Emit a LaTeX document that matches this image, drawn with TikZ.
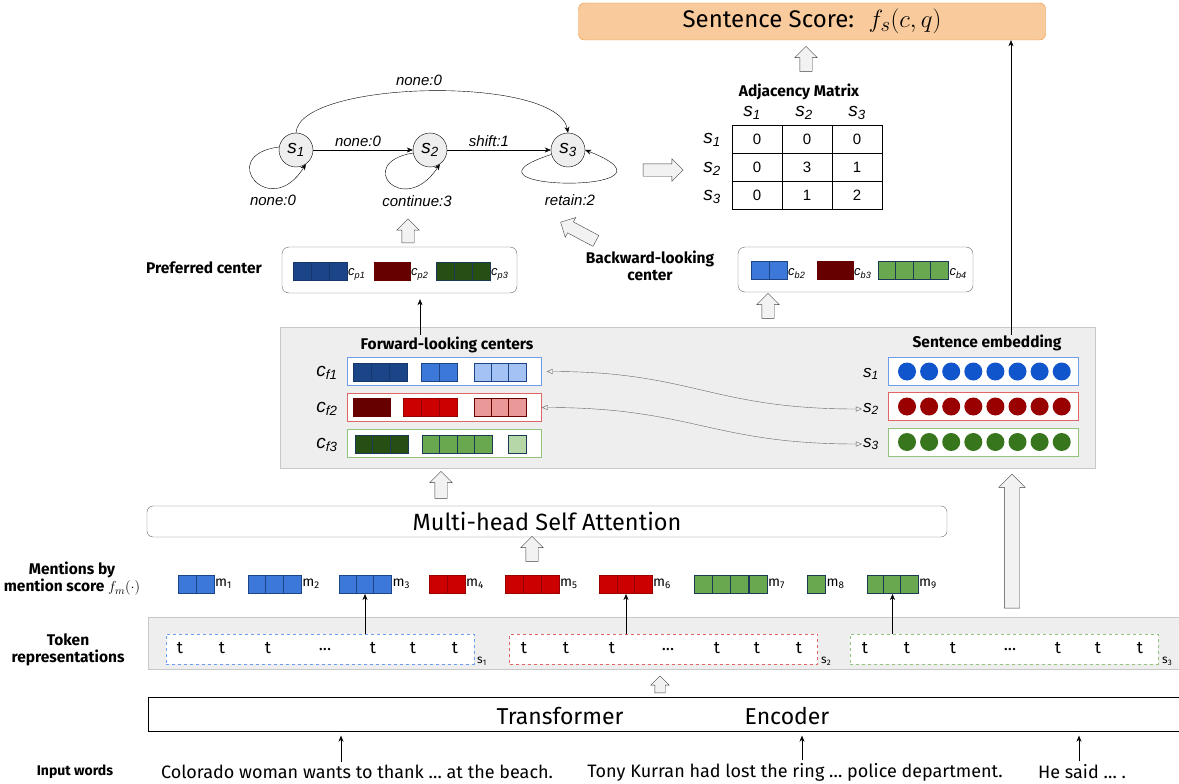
\documentclass[tikz,border=0pt]{standalone}
\usepackage{fontspec}
\setmainfont{Liberation Sans}
\newfontfamily\ubu{Fira Sans}
\usetikzlibrary{shapes,arrows.meta}

\definecolor{panelfill}{HTML}{EEEEEE}
\definecolor{panelline}{HTML}{C8C8C8}
\definecolor{scorefill}{HTML}{F9CB9C}
\definecolor{scoreline}{HTML}{E69138}
\definecolor{dblue}{HTML}{1C4587}
\definecolor{mblue}{HTML}{3C78D8}
\definecolor{lblue}{HTML}{A4C2F4}
\definecolor{dred}{HTML}{660000}
\definecolor{mred}{HTML}{CC0000}
\definecolor{lred}{HTML}{EA9999}
\definecolor{dgreen}{HTML}{274E13}
\definecolor{mgreen}{HTML}{6AA84F}
\definecolor{lgreen}{HTML}{B6D7A8}
\definecolor{embblue}{HTML}{1155CC}
\definecolor{embred}{HTML}{990000}
\definecolor{embgreen}{HTML}{38761D}
\definecolor{rowblue}{HTML}{6D9EEB}
\definecolor{rowred}{HTML}{E06666}
\definecolor{rowgreen}{HTML}{93C47D}
\definecolor{navy}{HTML}{1B3A57}

\newcommand\ital[2]{\textit{#1\textsubscript{#2}}}

\tikzset{
  arr/.style={-{Stealth[length=6pt,width=5pt]}},
  biarr/.style={draw=black!60,{Triangle[open,length=6pt,width=5pt]}-{Triangle[open,length=6pt,width=5pt]}},
  title/.style={font=\ubu\bfseries\fontsize{15.5}{17}\selectfont,align=center},
  lbl/.style={font=\itshape\fontsize{15}{17}\selectfont,inner sep=1pt},
  big/.style={font=\fontsize{19}{20}\selectfont,inner sep=1pt},
  state/.style={draw,circle,fill=panelfill,minimum size=34pt,inner sep=0pt,font=\fontsize{19}{20}\selectfont},
  mcell/.style={draw,minimum width=50pt,minimum height=28pt,inner sep=0pt,font=\fontsize{15}{16}\selectfont},
  cbox/.style={draw=black!60,rounded corners=7pt,minimum height=45pt,minimum width=235pt},
  panel/.style={draw=panelline,fill=panelfill},
  rowbox/.style={draw=#1,fill=white,minimum width=194pt,minimum height=28pt},
  cell/.style={draw,minimum width=#1,minimum height=18pt,inner sep=0pt,outer sep=0pt},
  cell/.default=18pt,
  csub/.style={font=\itshape\fontsize{13}{14}\selectfont,inner sep=1pt,anchor=west,yshift=-3pt},
  emb/.style={circle,fill=#1,minimum size=18pt,inner sep=0pt},
  fat/.style={single arrow,draw=black!75,fill=black!5,inner xsep=0pt,inner ysep=6pt,minimum height=#1,single arrow head extend=5pt},
  fatup/.style={fat=#1,rotate=90},
  tokbox/.style={draw=#1,dashed,fill=white,minimum width=308pt,minimum height=30pt},
  tok/.style={font=\ubu\fontsize{17}{18}\selectfont,inner sep=0pt},
  msub/.style={font=\ubu\fontsize{14}{15}\selectfont,inner sep=1pt,anchor=west},
  cond/.style={font=\ubu\fontsize{23}{25}\selectfont},
  words/.style={font=\ubu\fontsize{18}{20}\selectfont},
}

\begin{document}
\begin{tikzpicture}[x=1pt,y=-1pt]
\useasboundingbox(0,0)rectangle(1179,784);
\node(score)at(812,21.5)[draw=scoreline,fill=scorefill,rounded corners=6pt,minimum width=467pt,minimum height=37pt,font=\ubu\fontsize{24}{26}\selectfont]{Sentence Score:\hspace{0.6em}{\fontsize{30}{32}\selectfont$f_s(c,q)$}};
\node(up1)at(806,62)[fatup=25pt]{};

\node(s1)at(296,150)[state]{\ital{s}{1}};
\node(s2)at(430,150)[state]{\ital{s}{2}};
\node(s3)at(568,150)[state]{\ital{s}{3}};
\node(n13)at(419,80)[lbl]{none:0};
\node(n12)at(358,141)[lbl]{none:0};
\node(n23)at(489,141)[lbl]{shift:1};
\node(n11)at(273,200)[lbl]{none:0};
\node(n22)at(417,201)[lbl]{continue:3};
\node(n33)at(570,200)[lbl]{retain:2};
\draw[arr](s1)--(s2);
\draw[arr](s2)--(s3);
\draw[arr](s1.north)..controls +(3,-53)and +(-10,-58)..(s3.north);
\draw[arr](s1.170)..controls +(-64,8)and +(-36,58)..(s1.-55);
\draw[arr](s2.190)..controls +(-60,10)and +(-36,55)..(s2.-55);
\draw[arr](s3.195)..controls +(-115,37)and +(115,45)..(s3.east);
\node(toadj)at(660,170)[fat=40pt]{};

\node(adjt)at(799,92)[title,inner sep=0pt]{Adjacency Matrix};
\node(h1)at(752,113)[big,inner sep=0pt]{\ital{s}{1}};
\node(h2)at(804,113)[big,inner sep=0pt]{\ital{s}{2}};
\node(h3)at(857,113)[big,inner sep=0pt]{\ital{s}{3}};
\node(r1)at(712,140)[big]{\ital{s}{1}};
\node(r2)at(712,169)[big]{\ital{s}{2}};
\node(r3)at(712,197)[big]{\ital{s}{3}};
\foreach \y/\a/\b/\c[count=\r] in {139/0/0/0,167/0/3/1,195/0/1/2}{
  \node(a\r1)at(757,\y)[mcell]{\a};
  \node(a\r2)at(807,\y)[mcell]{\b};
  \node(a\r3)at(857,\y)[mcell]{\c};
}

\node(up2)at(408,234)[fatup=24pt]{};
\node(up3)at(581,233)[fat=40pt,rotate=152]{};

\node(preft)at(204,268)[title]{Preferred center};
\node(pref)at(399.5,270)[cbox,minimum height=46pt]{};
\foreach \x[count=\i] in {302,320,338}\node(pa\i)at(\x,271.5)[cell,fill=dblue,draw=dblue!80!black]{};
\foreach \x[count=\i] in {383,401}\node(pb\i)at(\x,271.5)[cell,fill=dred,draw=dred]{};
\foreach \x[count=\i] in {445,463,481}\node(pc\i)at(\x,271.5)[cell,fill=dgreen,draw=navy]{};
\node(cp1)at(pa3.east)[csub]{\ital{c}{p1}};
\node(cp2)at(pb2.east)[csub]{\ital{c}{p2}};
\node(cp3)at(pc3.east)[csub]{\ital{c}{p3}};

\node(backt)at(650,266)[title]{Backward-looking\\center};
\node(back)at(855.5,269.5)[cbox]{};
\foreach \x[count=\i] in {760,778}\node(ba\i)at(\x,270.5)[cell,fill=mblue,draw=dblue]{};
\foreach \x[count=\i] in {826,844}\node(bb\i)at(\x,270.5)[cell,fill=dred,draw=dred]{};
\foreach \x[count=\i] in {886.8,904.3,921.8,939.3}\node(bc\i)at(\x,270.5)[cell,fill=mgreen,draw=navy]{};
\node(cb2)at(ba2.east)[csub]{\ital{c}{b2}};
\node(cb3)at(bb2.east)[csub]{\ital{c}{b3}};
\node(cb4)at(bc4.east)[csub]{\ital{c}{b4}};
\node(up4)at(768,309)[fatup=25pt]{};

\node(mid)at(687.5,397.5)[panel,minimum width=815pt,minimum height=141pt]{};
\node(fwdt)at(447,345)[title]{Forward-looking centers};
\node(embt)at(987,343)[title]{Sentence embedding};
\coordinate(fwdup)at(420,335);
\coordinate(embup)at(1011,335);
\draw[arr,shorten >=6pt](fwdup)--(fwdup|-pref.south);
\draw[arr](embup)--(embup|-score.south);

\node(cf1)at(444.5,371.5)[rowbox=rowblue]{};
\node(cf2)at(444.5,407.5)[rowbox=rowred]{};
\node(cf3)at(444.5,443)[rowbox=rowgreen]{};
\node(cfl1)at(327,373)[big]{\ital{c}{f1}};
\node(cfl2)at(327,409)[big]{\ital{c}{f2}};
\node(cfl3)at(327,445)[big]{\ital{c}{f3}};
\foreach \x[count=\i] in {362,380.3,398.6}\node(fa\i)at(\x,372)[cell,fill=dblue,draw=dblue!80!black]{};
\foreach \x[count=\i] in {430,448}\node(fb\i)at(\x,372)[cell,fill=mblue,draw=dblue]{};
\foreach \x[count=\i] in {482.7,500,517.3}\node(fc\i)at(\x,372)[cell,fill=lblue,draw=dblue]{};
\foreach \x[count=\i] in {362.3,380.8}\node(ga\i)at(\x,407.5)[cell,fill=dred,draw=dred]{};
\foreach \x[count=\i] in {412,430,448}\node(gb\i)at(\x,407.5)[cell,fill=mred,draw=embred]{};
\foreach \x[count=\i] in {482.7,500,517.3}\node(gc\i)at(\x,407.5)[cell,fill=lred,draw=dred]{};
\foreach \x[count=\i] in {363.8,381.5,399.2}\node(ha\i)at(\x,444)[cell,fill=dgreen,draw=navy]{};
\foreach \x[count=\i] in {430.8,448.3,465.8,483.3}\node(hb\i)at(\x,444)[cell,fill=mgreen,draw=navy]{};
\node(hc1)at(517,444)[cell,fill=lgreen,draw=navy]{};

\node(se1)at(983,371.5)[rowbox=rowblue,minimum width=190pt]{};
\node(se2)at(983,406.5)[rowbox=rowred,minimum width=190pt]{};
\node(se3)at(983,442)[rowbox=rowgreen,minimum width=190pt]{};
\node(sl1)at(871,374)[big,font=\fontsize{17}{18}\selectfont]{\ital{s}{1}};
\node(sl2)at(871,409)[big,font=\fontsize{17}{18}\selectfont]{\ital{s}{2}};
\node(sl3)at(871,444)[big,font=\fontsize{17}{18}\selectfont]{\ital{s}{3}};
\foreach \i in {0,...,7}{
  \node(ea\i)at(907+22.1*\i,371.5)[emb=embblue]{};
  \node(eb\i)at(907+22.1*\i,406.5)[emb=embred]{};
  \node(ec\i)at(907+22.1*\i,442)[emb=embgreen]{};
}
\draw[biarr,shorten <=5pt](cf1.east)..controls +(150,0)and +(-150,0)..(sl2.west);
\draw[biarr](cf2.east)..controls +(150,0)and +(-150,0)..(sl3.west);

\node(up5)at(441,488)[fatup=27pt]{};
\node(mhsa)at(547,521.5)[draw=black!60,rounded corners=6pt,minimum width=800pt,minimum height=31pt,font=\ubu\fontsize{23.5}{25}\selectfont]{Multi-head Self Attention};
\node(up6)at(532,552)[fatup=25pt]{};
\node(up7)at(1012,545)[fatup=134pt,inner ysep=7.5pt,single arrow head extend=5.5pt]{};

\node(mentt)at(72,579)[title]{Mentions by\\mention score $f_m(\cdot)$};
\foreach \x[count=\i] in {187,205}\node(ma\i)at(\x,584)[cell,fill=mblue,draw=dblue]{};
\foreach \x[count=\i] in {256.8,274.5,292.2}\node(mb\i)at(\x,584)[cell,fill=mblue,draw=dblue]{};
\foreach \x[count=\i] in {347.7,365,382.3}\node(mc\i)at(\x,584)[cell,fill=mblue,draw=dblue]{};
\foreach \x[count=\i] in {438,456}\node(md\i)at(\x,584)[cell,fill=mred,draw=embred]{};
\foreach \x[count=\i] in {514,532,550}\node(me\i)at(\x,584)[cell,fill=mred,draw=embred]{};
\foreach \x[count=\i] in {608,626,643}\node(mf\i)at(\x,584)[cell,fill=mred,draw=embred]{};
\foreach \x[count=\i] in {703,721.4,739.6,757.9}\node(mg\i)at(\x,584)[cell,fill=mgreen,draw=navy]{};
\node(mh1)at(816.5,584)[cell,fill=mgreen,draw=navy]{};
\foreach \x[count=\i] in {876.2,892.5,908.8}\node(mi\i)at(\x,584)[cell,fill=mgreen,draw=navy]{};
\node(m1)at(ma2.east)[msub]{m\textsubscript{1}};
\node(m2)at(mb3.east)[msub]{m\textsubscript{2}};
\node(m3)at(mc3.east)[msub]{m\textsubscript{3}};
\node(m4)at(md2.east)[msub]{m\textsubscript{4}};
\node(m5)at(me3.east)[msub]{m\textsubscript{5}};
\node(m6)at(mf3.east)[msub]{m\textsubscript{6}};
\node(m7)at(mg4.east)[msub]{m\textsubscript{7}};
\node(m8)at(mh1.east)[msub]{m\textsubscript{8}};
\node(m9)at(mi3.east)[msub]{m\textsubscript{9}};

\node(tokp)at(663.5,643)[panel,minimum width=1031pt,minimum height=52pt]{};
\node(tokt)at(68,650)[title]{Token\\representations};
\node(tok1)at(320,649)[tokbox=rowblue]{};
\node(tok2)at(663.5,649)[tokbox=rowred]{};
\node(tok3)at(1004,649)[tokbox=rowgreen]{};
\foreach \x[count=\i] in {180,222,268,373,413,455}{
  \node(ta\i)at(\x,648)[tok]{t};
  \node(tb\i)at(\x+344,648)[tok]{t};
  \node(tc\i)at(\x+685,648)[tok]{t};
}
\node(tad)at(325,650)[tok]{...};
\node(tbd)at(668,650)[tok]{...};
\node(tcd)at(1010,650)[tok]{...};
\node(ts1)at(476,661)[msub,font=\ubu\fontsize{12}{13}\selectfont]{s\textsubscript{1}};
\node(ts2)at(820,661)[msub,font=\ubu\fontsize{12}{13}\selectfont]{s\textsubscript{2}};
\node(ts3)at(1161,661)[msub,font=\ubu\fontsize{12}{13}\selectfont]{s\textsubscript{3}};
\draw[arr,shorten >=1pt](mc2.south|-tok1.north)--(mc2.south);
\draw[arr,shorten >=1pt](mf2.south|-tok2.north)--(mf2.south);
\draw[arr,shorten >=1pt](mi2.south|-tok3.north)--(mi2.south);

\node(up8)at(660,687)[fatup=17pt,inner ysep=5pt,single arrow head extend=4pt]{};
\node(trans)at(663.5,714.5)[draw,minimum width=1031pt,minimum height=34pt]{};
\node(transl)at(560,716)[cond]{Transformer};
\node(encl)at(787,716)[cond]{Encoder};

\node(inw)at(75,772)[font=\ubu\bfseries\fontsize{14}{16}\selectfont]{Input words};
\node(w1)at(357,772)[words]{Colorado woman wants to thank … at the beach.};
\node(w2)at(795,772)[words]{Tony Kurran had lost the ring … police department.};
\node(w3)at(1082,772)[words]{He said … .};
\draw[arr,shorten >=4pt]([xshift=-16pt]w1.north)--([xshift=-16pt]w1.north|-trans.south);
\draw[arr,shorten >=4pt]([xshift=7pt]w2.north)--([xshift=7pt]w2.north|-trans.south);
\draw[arr,shorten >=4pt]([xshift=-3pt]w3.north)--([xshift=-3pt]w3.north|-trans.south);
\end{tikzpicture}
\end{document}
